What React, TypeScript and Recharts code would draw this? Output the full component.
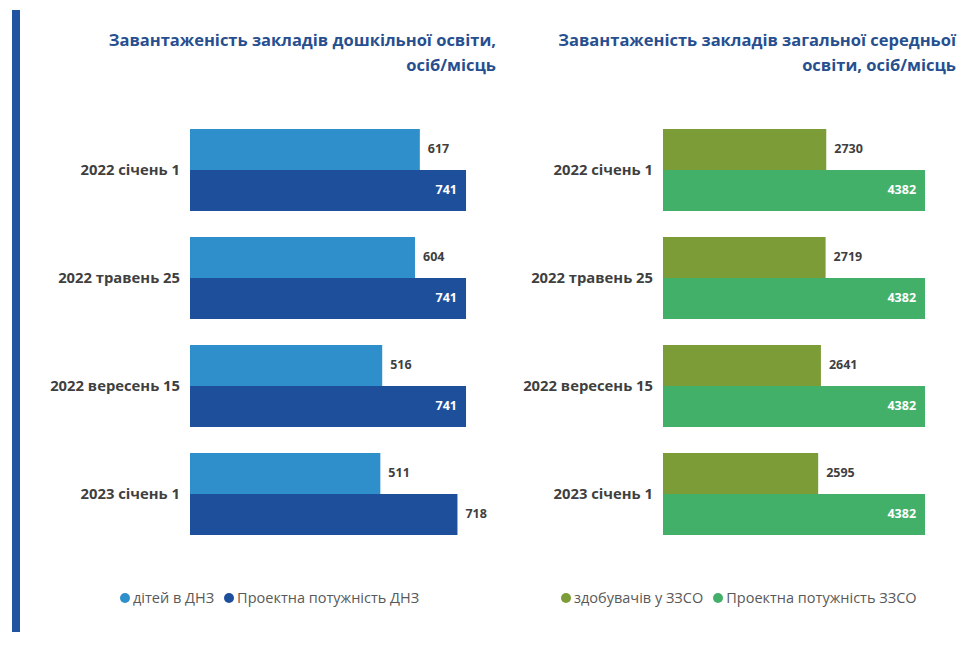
import React from 'react';
import { BarChart, Bar, XAxis, YAxis, LabelList } from 'recharts';

const categories = ['2022 січень 1', '2022 травень 25', '2022 вересень 15', '2023 січень 1'];

const preschoolKids = [617, 604, 516, 511];
const preschoolCapacity = [741, 741, 741, 718];

const schoolPupils = [2730, 2719, 2641, 2595];
const schoolCapacity = [4382, 4382, 4382, 4382];

const leftTitle = ['Завантаженість закладів дошкільної освіти,', 'осіб/місць'];
const rightTitle = ['Завантаженість закладів загальної середньої', 'освіти, осіб/місць'];

const leftNames = ['дітей в ДНЗ', 'Проектна потужність ДНЗ'];
const rightNames = ['здобувачів у ЗЗСО', 'Проектна потужність ЗЗСО'];

const leftData = categories.map((c, i) => ({ name: c, a: preschoolKids[i], b: preschoolCapacity[i] }));
const rightData = categories.map((c, i) => ({ name: c, a: schoolPupils[i], b: schoolCapacity[i] }));

const FONT = '"Open Sans", "Noto Sans", sans-serif';
const TITLE_COLOR = '#274f8f';
const TEXT_COLOR = '#3f3f3f';

const outsideLabel = (props: any) => {
  const { x, y, width, height, value } = props;
  return (
    <text x={x + width + 8} y={y + height / 2} dy={4} fontSize={12.5} fontWeight={700}
      fontFamily={FONT} fill={TEXT_COLOR}>
      {value}
    </text>
  );
};

// capacity labels sit inside the bar when it is the longest one, otherwise outside
const capacityLabel = (max: number) => (props: any) => {
  const { x, y, width, height, value } = props;
  if (value >= max) {
    return (
      <text x={x + width - 9} y={y + height / 2} dy={4} textAnchor="end" fontSize={12.5}
        fontWeight={700} fontFamily={FONT} fill="#ffffff">
        {value}
      </text>
    );
  }
  return outsideLabel(props);
};

function Title({ lines, right, top }: { lines: string[]; right: number; top: number }) {
  return (
    <div style={{
      position: 'absolute', top, right, textAlign: 'right', color: TITLE_COLOR,
      fontFamily: FONT, fontWeight: 700, fontSize: 16.5, lineHeight: '25px', whiteSpace: 'nowrap',
    }}>
      {lines.map((l) => <div key={l}>{l}</div>)}
    </div>
  );
}

function LegendRow({ names, colors, left }: { names: string[]; colors: string[]; left: number }) {
  return (
    <div style={{
      position: 'absolute', top: 588, left, display: 'flex', alignItems: 'center',
      fontFamily: FONT, fontSize: 14.5, color: '#595959', whiteSpace: 'nowrap', lineHeight: '20px',
    }}>
      {names.map((n, i) => (
        <span key={n} style={{ display: 'flex', alignItems: 'center', marginRight: 10 }}>
          <span style={{ width: 10, height: 10, borderRadius: 5, background: colors[i], marginRight: 3 }} />
          {n}
        </span>
      ))}
    </div>
  );
}

function Panel({ data, colors, axisWidth, width, max, domainMax, rightMargin }: any) {
  return (
    <BarChart
      width={width}
      height={646}
      data={data}
      layout="vertical"
      barCategoryGap="12%"
      barGap={0}
      margin={{ top: 116, right: rightMargin, bottom: 98, left: 0 }}
    >
      <XAxis type="number" domain={[0, domainMax]} hide />
      <YAxis
        type="category"
        dataKey="name"
        width={axisWidth}
        axisLine={false}
        tickLine={false}
        tickSize={0}
        tickMargin={10}
        tick={{ fontSize: 14.8, fontWeight: 700, fill: TEXT_COLOR, fontFamily: FONT }}
      />
      <Bar dataKey="a" fill={colors[0]} isAnimationActive={false}>
        <LabelList dataKey="a" content={outsideLabel} />
      </Bar>
      <Bar dataKey="b" fill={colors[1]} isAnimationActive={false}>
        <LabelList dataKey="b" content={capacityLabel(max)} />
      </Bar>
    </BarChart>
  );
}

const leftColors = ['#2f8fcb', '#1e4f9b'];
const rightColors = ['#7b9c37', '#43b06a'];

export default function App() {
  return (
    <div style={{ position: 'absolute', left: 0, top: 0, width: 965, height: 646, background: '#fff', overflow: 'hidden' }}>
      <div style={{ position: 'absolute', left: 12, top: 10, width: 8, height: 622, background: '#2054a0' }} />
      <Title lines={leftTitle} right={965 - 496} top={27} />
      <Title lines={rightTitle} right={965 - 956} top={27} />
      <div style={{ position: 'absolute', left: 0, top: 0 }}>
        <Panel
          data={leftData}
          colors={leftColors}
          axisWidth={190}
          width={500}
          max={Math.max(...preschoolCapacity)}
          domainMax={800}
          rightMargin={12}
        />
      </div>
      <div style={{ position: 'absolute', left: 480, top: 0 }}>
        <Panel
          data={rightData}
          colors={rightColors}
          axisWidth={183}
          width={485}
          max={Math.max(...schoolCapacity)}
          domainMax={5000}
          rightMargin={3}
        />
      </div>
      <LegendRow names={leftNames} colors={leftColors} left={120} />
      <LegendRow names={rightNames} colors={rightColors} left={561} />
    </div>
  );
}
